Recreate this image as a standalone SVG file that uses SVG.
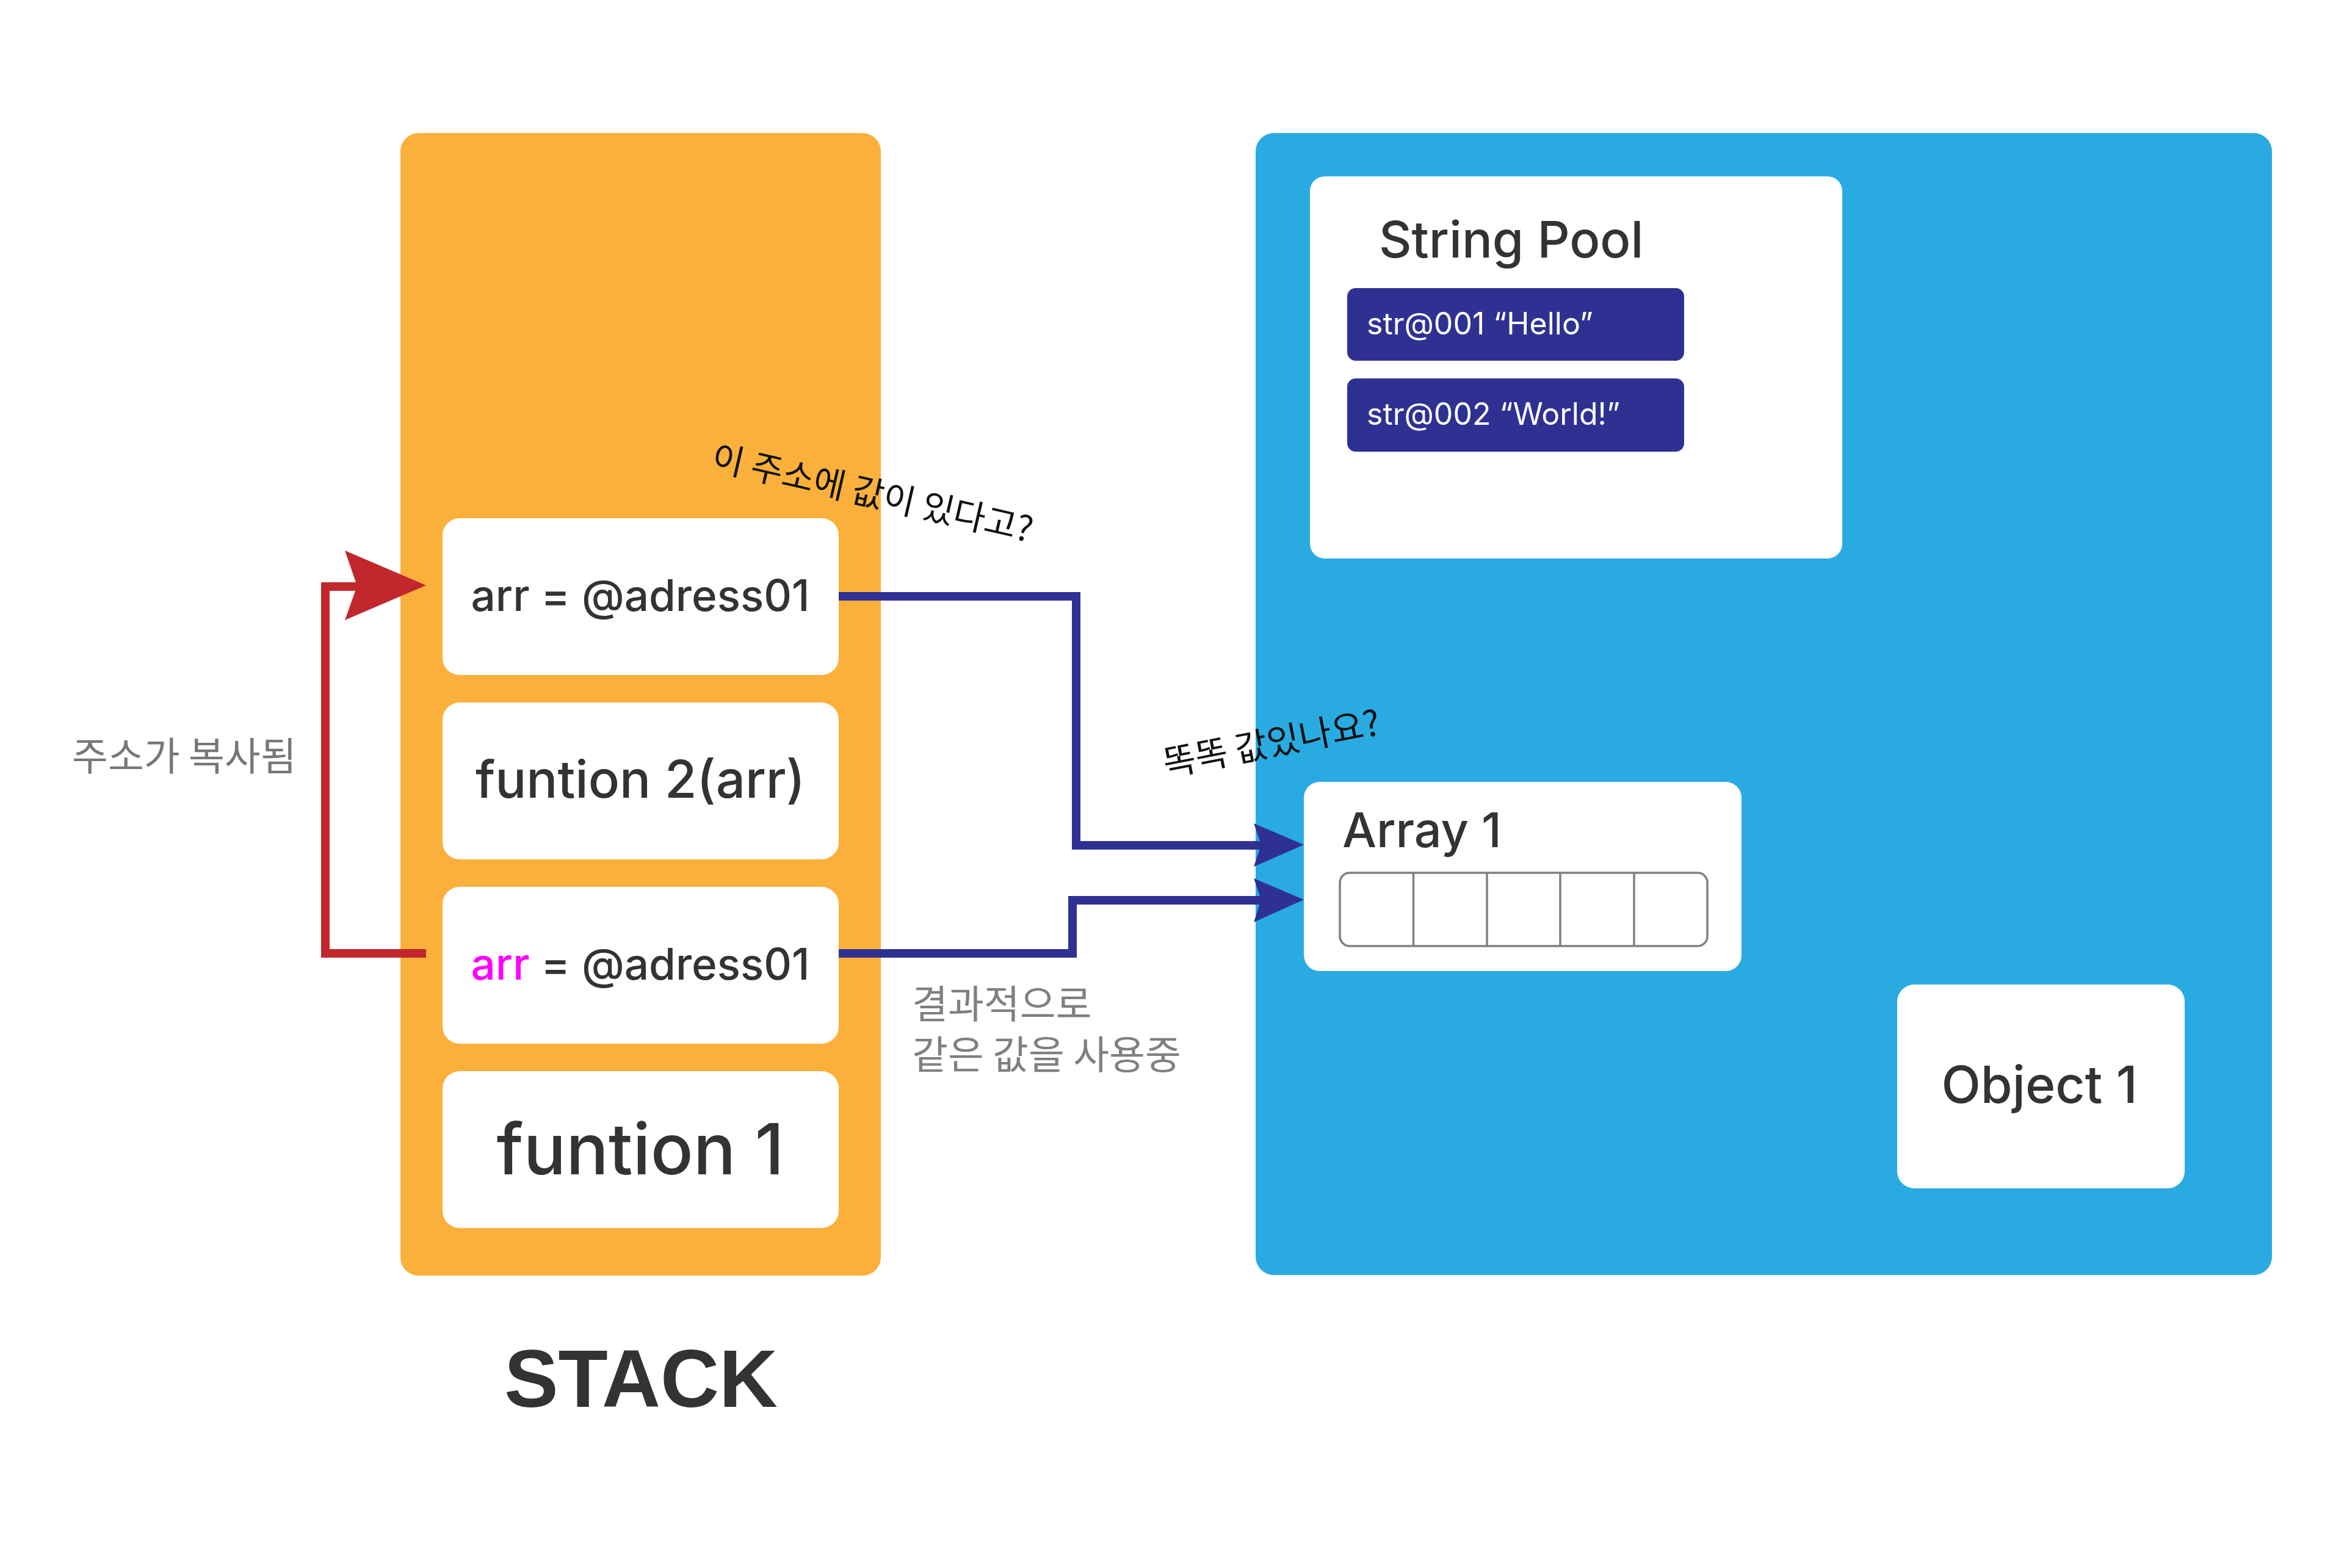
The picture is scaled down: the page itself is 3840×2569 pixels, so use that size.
<svg xmlns="http://www.w3.org/2000/svg" width="3840" height="2569" viewBox="0 0 3840 2569">
<style>
.box{fill:#ffffff}
.t{font-family:Inter,"Liberation Sans","Noto Sans CJK KR",sans-serif;fill:#333333;font-weight:500}
.kr{font-family:"Noto Sans CJK KR","Noto Sans",sans-serif}
.blue{fill:none;stroke:#2E3192;stroke-width:14}
.red{fill:none;stroke:#C1272D;stroke-width:14}
</style>
<rect width="3840" height="2569" fill="#ffffff"/>
<g id="stack">
<rect x="656" y="218" width="787" height="1872" rx="30" fill="#FBB03B"/>
</g>
<g id="heap">
<rect x="2057" y="218" width="1665" height="1871" rx="30" fill="#29ABE2"/>
</g>
<g id="node-arr1">
<rect class="box" x="725" y="849" width="649" height="257" rx="28"/>
<text class="t" x="1049" y="1001" font-size="71" text-anchor="middle">arr = @adress01</text>
</g>
<g id="node-fn2">
<rect class="box" x="725" y="1151" width="649" height="257" rx="28"/>
<text class="t" x="1049" y="1307" font-size="85" text-anchor="middle">funtion 2(arr)</text>
</g>
<g id="node-arr2">
<rect class="box" x="725" y="1453" width="649" height="257" rx="28"/>
<text class="t" x="1049" y="1605" font-size="71" text-anchor="middle"><tspan fill="#FF00FF">arr</tspan> = @adress01</text>
</g>
<g id="node-fn1">
<rect class="box" x="725" y="1755" width="649" height="257" rx="28"/>
<text class="t" x="1049" y="1924" font-size="116" text-anchor="middle">funtion 1</text>
</g>
<g id="stack-label">
<text x="1050" y="2305" font-family="'Liberation Sans',Arial,sans-serif" font-weight="bold" font-size="133" fill="#333333" text-anchor="middle">STACK</text>
</g>
<g id="string-pool">
<rect class="box" x="2146" y="289" width="872" height="626" rx="24"/>
<text class="t" x="2259" y="422" font-size="83">String Pool</text>
<rect x="2207" y="472" width="552" height="119" rx="14" fill="#2E3192"/>
<text x="2239" y="548" font-family="Inter,'Liberation Sans',sans-serif" font-size="50" fill="#ffffff">str@001 “Hello”</text>
<rect x="2207" y="620" width="552" height="120" rx="14" fill="#2E3192"/>
<text x="2239" y="696" font-family="Inter,'Liberation Sans',sans-serif" font-size="50" fill="#ffffff">str@002 “World!”</text>
</g>
<g id="array1">
<rect class="box" x="2136" y="1281" width="717" height="310" rx="26"/>
<text class="t" x="2199" y="1388" font-size="79">Array 1</text>
<rect x="2195" y="1430" width="602" height="120" rx="16" fill="none" stroke="#808080" stroke-width="3.5"/>
<path d="M2315.5 1430V1550M2436 1430V1550M2556 1430V1550M2677 1430V1550" stroke="#808080" stroke-width="3.5" fill="none"/>
</g>
<g id="object1">
<rect class="box" x="3108" y="1613" width="471" height="334" rx="28"/>
<text class="t" x="3341" y="1807" font-size="84" text-anchor="middle">Object 1</text>
</g>
<g id="connectors">
<path class="red" d="M698 1562H533V961H592"/>
<polygon points="698,959 565,902 585,960 565,1016" fill="#C1272D"/>
<path class="blue" d="M1374 977H1763V1385H2070"/>
<polygon points="2136,1384 2054,1349 2066,1384 2054,1420" fill="#2E3192"/>
<path class="blue" d="M1374 1562H1757V1475H2070"/>
<polygon points="2136,1474 2054,1439 2066,1474 2054,1511" fill="#2E3192"/>
</g>
<g id="labels">
<text class="kr" x="118" y="1262" font-size="64" fill="#777777">주소가 복사됨</text>
<text class="kr" x="1494" y="1668" font-size="64" fill="#808080">결과적으로</text>
<text class="kr" x="1494" y="1751" font-size="64" fill="#808080">같은 값을 사용중</text>
<text class="kr" x="1163" y="768" font-size="57" fill="#111111" transform="rotate(13 1163 768)">이 주소에 값이 있다고?</text>
<text class="kr" x="1910" y="1272" font-size="58" fill="#111111" transform="rotate(-11 1910 1272)">똑똑 값있나요?</text>
</g>
</svg>
